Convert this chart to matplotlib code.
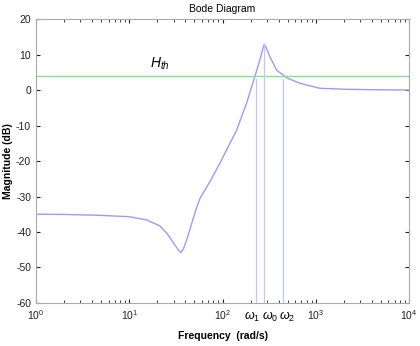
import numpy as np
import matplotlib
matplotlib.use('Agg')
import matplotlib.pyplot as plt
from matplotlib.ticker import LogLocator, NullFormatter

plt.rcParams['font.family'] = ['Liberation Sans', 'DejaVu Sans']
plt.rcParams['axes.unicode_minus'] = False
plt.rcParams['mathtext.fontset'] = 'custom'
plt.rcParams['mathtext.rm'] = 'Liberation Sans'
plt.rcParams['mathtext.it'] = 'Liberation Sans:italic'

# magnitude response
freq = [1, 2, 4.85, 10, 15.4, 21.3, 25, 28, 31, 34, 35.8, 38, 41.2, 45,
        48.5, 53, 57.3, 62, 73.3, 93.8, 141.6, 181, 222, 252, 270, 280,
        295, 322, 380, 412, 500, 675, 1100, 2140, 5000, 10000]
mag = [-35, -35.05, -35.3, -35.7, -36.6, -38.3, -40.2, -42.0, -43.8, -45.2,
       -45.8, -44.8, -42.3, -39.0, -36.2, -33.0, -30.5, -29.0, -25.8, -20.6,
       -11.3, -3.7, 3.8, 8.6, 11.6, 12.9, 11.8, 9.4, 5.6, 4.9, 3.3, 1.9,
       0.5, 0.2, 0.05, 0]

h_th = 4
# band edges and centre (rad/s) with the top of each marker line (dB)
w_names = [r'$\omega_1$', r'$\omega_0$', r'$\omega_2$']
w_freq = [228, 279, 441]
w_top = [3, 12.9, 3]
w_label_x = [207, 320, 490]

fig = plt.figure(figsize=(4.2, 3.46), dpi=100)
ax = fig.add_axes([0.0857, 0.1243, 0.8883, 0.8207])

ax.semilogx(freq, mag, color='#9a9aff', lw=1.0)
ax.axhline(h_th, color='#8edc8e', lw=1.0)
for w, top in zip(w_freq, w_top):
    ax.plot([w, w], [-60, top], color='#c4c4ff', lw=0.9)

ax.set_xlim(1, 1e4)
ax.set_ylim(-60, 20)
ax.set_yticks(np.arange(-60, 21, 10))
ax.xaxis.set_minor_locator(LogLocator(base=10, subs=np.arange(2, 10)))
ax.xaxis.set_minor_formatter(NullFormatter())
ax.tick_params(which='both', direction='in', top=True, right=True,
               labelsize=7.5, colors='#222222', length=3)
ax.tick_params(which='minor', length=2)
for s in ax.spines.values():
    s.set_color('#aaaaaa')

ax.set_title('Bode Diagram', fontsize=7.5, pad=5)
ax.set_xlabel('Frequency  (rad/s)', fontsize=7.5, fontweight='bold', labelpad=7)
ax.set_ylabel('Magnitude (dB)', fontsize=7.5, fontweight='bold', labelpad=2)

ax.text(21.3, 5.0, r'$H_{th}$', fontsize=10, ha='center', va='bottom')
for name, x in zip(w_names, w_label_x):
    ax.text(x, -0.025, name, transform=ax.get_xaxis_transform(),
            fontsize=9, ha='center', va='top')

fig.savefig('out.png', dpi=100, facecolor='white')
